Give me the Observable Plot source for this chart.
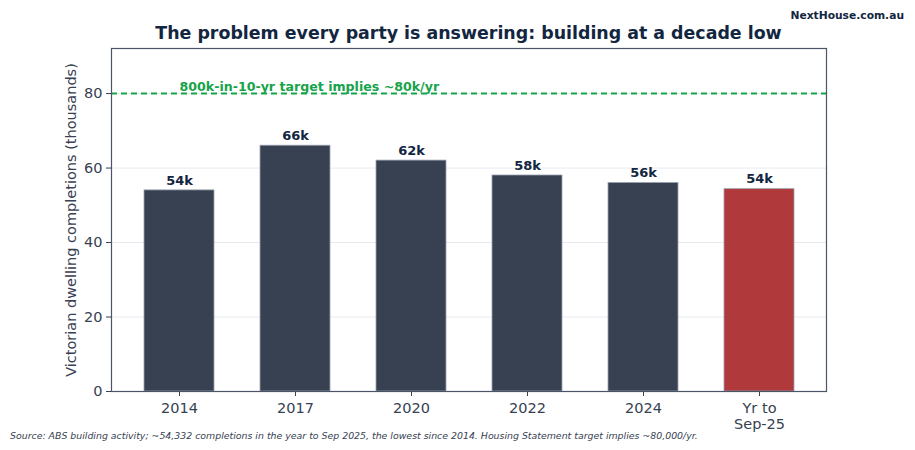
<!DOCTYPE html>
<html>
<head>
<meta charset="utf-8">
<script src="https://cdn.jsdelivr.net/npm/d3@7"></script>
<script src="https://cdn.jsdelivr.net/npm/@observablehq/plot@0.6"></script>
<style>
  html, body { margin: 0; padding: 0; background: #fff; }
  #wrap { position: relative; width: 915px; height: 450px; font-family: "DejaVu Sans", sans-serif; }
  #title { position: absolute; left: 111px; width: 715px; top: 23px; text-align: center; font-size: 17.4px; font-weight: bold; color: #13263f; white-space: nowrap; }
  #brand { position: absolute; right: 11px; top: 9px; font-size: 10.7px; font-weight: bold; color: #13263f; }
  #caption { position: absolute; left: 10px; top: 430px; font-size: 9.4px; font-style: italic; color: #374151; white-space: nowrap; }
  #chart { position: absolute; left: 0; top: 0; }
</style>
</head>
<body>
<div id="wrap">
  <div id="chart"></div>
  <div id="title">The problem every party is answering: building at a decade low</div>
  <div id="brand">NextHouse.com.au</div>
  <div id="caption">Source: ABS building activity; ~54,332 completions in the year to Sep 2025, the lowest since 2014. Housing Statement target implies ~80,000/yr.</div>
</div>
<script>
const categories = ["2014", "2017", "2020", "2022", "2024", "Yr to\nSep-25"];
const completions = [54, 66, 62, 58, 56, 54.332];
const barLabels = ["54k", "66k", "62k", "58k", "56k", "54k"];
const highlight = [false, false, false, false, false, true];
const targetValue = 80;
const targetLabel = "800k-in-10-yr target implies ~80k/yr";
const yTicks = [0, 20, 40, 60, 80];

const data = categories.map((c, i) => ({cat: c, value: completions[i], label: barLabels[i], hl: highlight[i]}));

const chart = Plot.plot({
  width: 915,
  height: 450,
  marginTop: 48,
  marginBottom: 59,
  marginLeft: 111,
  marginRight: 89,
  style: {fontFamily: "DejaVu Sans, sans-serif", background: "transparent"},
  x: {domain: categories, paddingInner: 0.4, paddingOuter: 0.28, label: null},
  y: {domain: [0, 92.1], label: null},
  marks: [
    Plot.gridY(yTicks, {stroke: "#e8eaee", strokeOpacity: 1, strokeWidth: 1}),
    Plot.ruleY([targetValue], {stroke: "#16a34a", strokeWidth: 2, strokeDasharray: "6,4"}),
    Plot.barY(data, {x: "cat", y: "value", fill: d => d.hl ? "#b0393b" : "#374151", stroke: "#9aa3b0", strokeWidth: 0.8}),
    Plot.text(data, {x: "cat", y: "value", text: "label", dy: -10, fontSize: 13, fontWeight: "bold", fill: "#13263f"}),
    Plot.text([targetLabel], {x: () => categories[0], y: () => targetValue, text: d => d, textAnchor: "start", dy: -7, fontSize: 12.6, fontWeight: "bold", fill: "#16a34a"}),
    Plot.axisY(yTicks, {tickSize: 5, tickPadding: 4, fontSize: 14.5, color: "#374151", stroke: "#374151", label: "Victorian dwelling completions (thousands)", labelAnchor: "center", labelArrow: "none", labelOffset: 46, fontSize: 14.5}),
    Plot.axisX({tickSize: 5, tickPadding: 6, fontSize: 14.5, color: "#374151", lineHeight: 1.05}),
    Plot.frame({stroke: "#4a5568", strokeWidth: 1.2})
  ]
});
document.getElementById("chart").appendChild(chart);
</script>
</body>
</html>
